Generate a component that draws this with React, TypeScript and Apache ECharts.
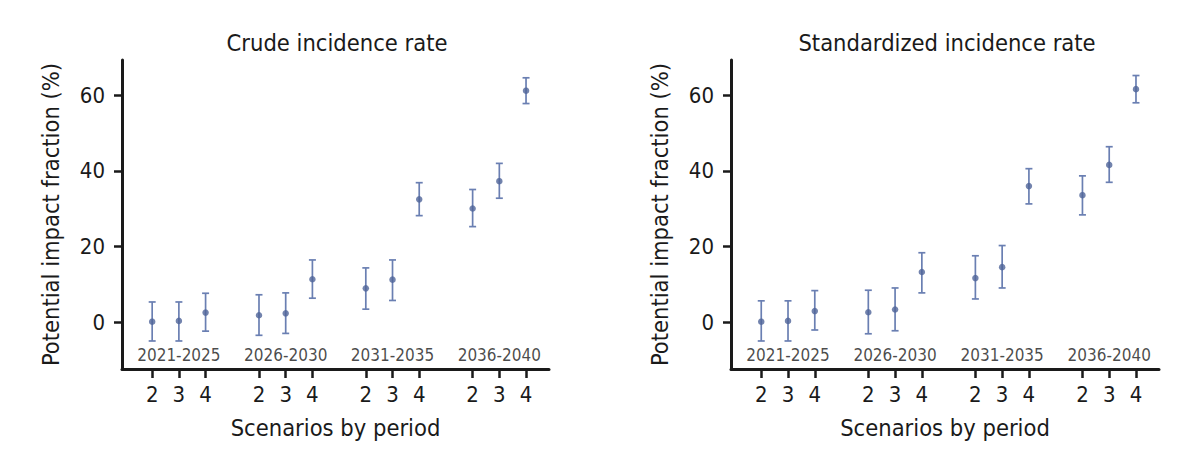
import React, { useEffect, useRef } from "react";
import * as echarts from "echarts";

const periods = ["2021-2025", "2026-2030", "2031-2035", "2036-2040"];
const scenarios = ["2", "3", "4"];

const crudeEst = [0.2, 0.4, 2.6, 1.9, 2.4, 11.4, 9.0, 11.3, 32.5, 30.1, 37.3, 61.2];
const crudeLow = [-4.9, -4.9, -2.3, -3.4, -2.9, 6.4, 3.5, 5.8, 28.2, 25.3, 32.8, 57.8];
const crudeHigh = [5.4, 5.4, 7.7, 7.3, 7.8, 16.5, 14.4, 16.5, 36.9, 35.1, 42.0, 64.6];

const stdEst = [0.2, 0.4, 3.0, 2.7, 3.4, 13.3, 11.7, 14.6, 36.0, 33.6, 41.6, 61.6];
const stdLow = [-4.9, -4.9, -2.0, -3.0, -2.2, 7.8, 6.2, 9.1, 31.3, 28.4, 37.0, 58.0];
const stdHigh = [5.7, 5.7, 8.4, 8.5, 9.1, 18.4, 17.6, 20.3, 40.6, 38.7, 46.4, 65.2];

const yTicks = [0, 20, 40, 60];
const titles = ["Crude incidence rate", "Standardized incidence rate"];
const yName = "Potential impact fraction (%)";
const xName = "Scenarios by period";
const PERIOD_LABEL_Y = -8.6;

const FONT = "'DejaVu Sans Condensed', 'Liberation Sans Narrow', Roboto, sans-serif";
const INK = "#1a1a1a";
const DOT = "#4f6498";
const BAR = "#6a7fb2";

// x position of each (period, scenario) item: groups separated by one empty slot
const xPos: number[] = [];
const xLabel: Record<number, string> = {};
periods.forEach((_, g) => {
  scenarios.forEach((s, k) => {
    const x = g * 4 + k + 1;
    xPos.push(x);
    xLabel[x] = s;
  });
});
const periodCenters = periods.map((_, g) => g * 4 + 2);

function buildPanel(idx: number, est: number[], low: number[], high: number[]) {
  const pts = xPos.map((x, i) => [x, est[i]]);
  const bars = xPos.map((x, i) => [x, low[i], high[i]]);
  const lbls = periods.map((p, g) => [periodCenters[g], PERIOD_LABEL_Y, p]);
  return [
    {
      type: "custom",
      xAxisIndex: idx,
      yAxisIndex: idx,
      data: bars,
      encode: { x: 0, y: [1, 2] },
      silent: true,
      z: 2,
      renderItem: (params: any, api: any) => {
        const x = api.value(0);
        const lo = api.coord([x, api.value(1)]);
        const hi = api.coord([x, api.value(2)]);
        const cap = 3.5;
        const style = { stroke: BAR, lineWidth: 1.7 };
        return {
          type: "group",
          children: [
            { type: "line", shape: { x1: lo[0], y1: lo[1], x2: hi[0], y2: hi[1] }, style },
            { type: "line", shape: { x1: lo[0] - cap, y1: lo[1], x2: lo[0] + cap, y2: lo[1] }, style },
            { type: "line", shape: { x1: hi[0] - cap, y1: hi[1], x2: hi[0] + cap, y2: hi[1] }, style },
          ],
        };
      },
    },
    {
      type: "scatter",
      xAxisIndex: idx,
      yAxisIndex: idx,
      data: pts,
      symbol: "circle",
      symbolSize: 6.5,
      itemStyle: { color: DOT },
      z: 3,
      silent: true,
    },
    {
      type: "scatter",
      xAxisIndex: idx,
      yAxisIndex: idx,
      data: lbls,
      symbolSize: 0,
      silent: true,
      label: {
        show: true,
        position: "inside",
        formatter: (p: any) => p.value[2],
        fontFamily: FONT,
        fontSize: 17,
        color: INK,
      },
    },
  ];
}

export default function App() {
  const ref = useRef<HTMLDivElement>(null);
  useEffect(() => {
    document.body.style.margin = "0";
    if (!ref.current) return;
    const chart = echarts.init(ref.current, null, { renderer: "svg" });
    const grids = [
      { left: 122, top: 60, width: 427, height: 309 },
      { left: 731, top: 60, width: 428, height: 309 },
    ];
    const xAxes = grids.map((_, i) => ({
      type: "value",
      gridIndex: i,
      min: -0.13,
      max: 15.86,
      name: xName,
      nameLocation: "middle",
      nameGap: 47,
      nameTextStyle: { fontFamily: FONT, fontSize: 23.5, color: INK },
      axisLine: { show: true, onZero: false, lineStyle: { color: INK, width: 3 } },
      axisTick: { show: true, length: 9, lineStyle: { color: INK, width: 2.5 }, customValues: xPos },
      axisLabel: {
        show: true,
        customValues: xPos,
        formatter: (v: number) => xLabel[Math.round(v)] ?? "",
        fontFamily: FONT,
        fontSize: 22,
        color: INK,
        margin: 14,
      },
      splitLine: { show: false },
    }));
    const yAxes = grids.map((_, i) => ({
      type: "value",
      gridIndex: i,
      min: -12.3,
      max: 69.3,
      name: yName,
      nameLocation: "middle",
      nameGap: 59,
      nameTextStyle: { fontFamily: FONT, fontSize: 23.5, color: INK },
      axisLine: { show: true, onZero: false, lineStyle: { color: INK, width: 3 } },
      axisTick: { show: true, length: 8, lineStyle: { color: INK, width: 2.5 }, customValues: yTicks },
      axisLabel: {
        show: true,
        customValues: yTicks,
        fontFamily: FONT,
        fontSize: 22,
        color: INK,
        margin: 17,
      },
      splitLine: { show: false },
    }));
    chart.setOption({
      animation: false,
      backgroundColor: "#ffffff",
      title: [
        { text: titles[0], left: 332, top: 26, textAlign: "center", textStyle: { fontFamily: FONT, fontSize: 23.5, fontWeight: "normal", color: INK } },
        { text: titles[1], left: 942, top: 26, textAlign: "center", textStyle: { fontFamily: FONT, fontSize: 23.5, fontWeight: "normal", color: INK } },
      ],
      grid: grids,
      xAxis: xAxes,
      yAxis: yAxes,
      series: [
        ...buildPanel(0, crudeEst, crudeLow, crudeHigh),
        ...buildPanel(1, stdEst, stdLow, stdHigh),
      ],
    });
    return () => chart.dispose();
  }, []);
  return <div ref={ref} style={{ width: 1198, height: 468 }} />;
}
